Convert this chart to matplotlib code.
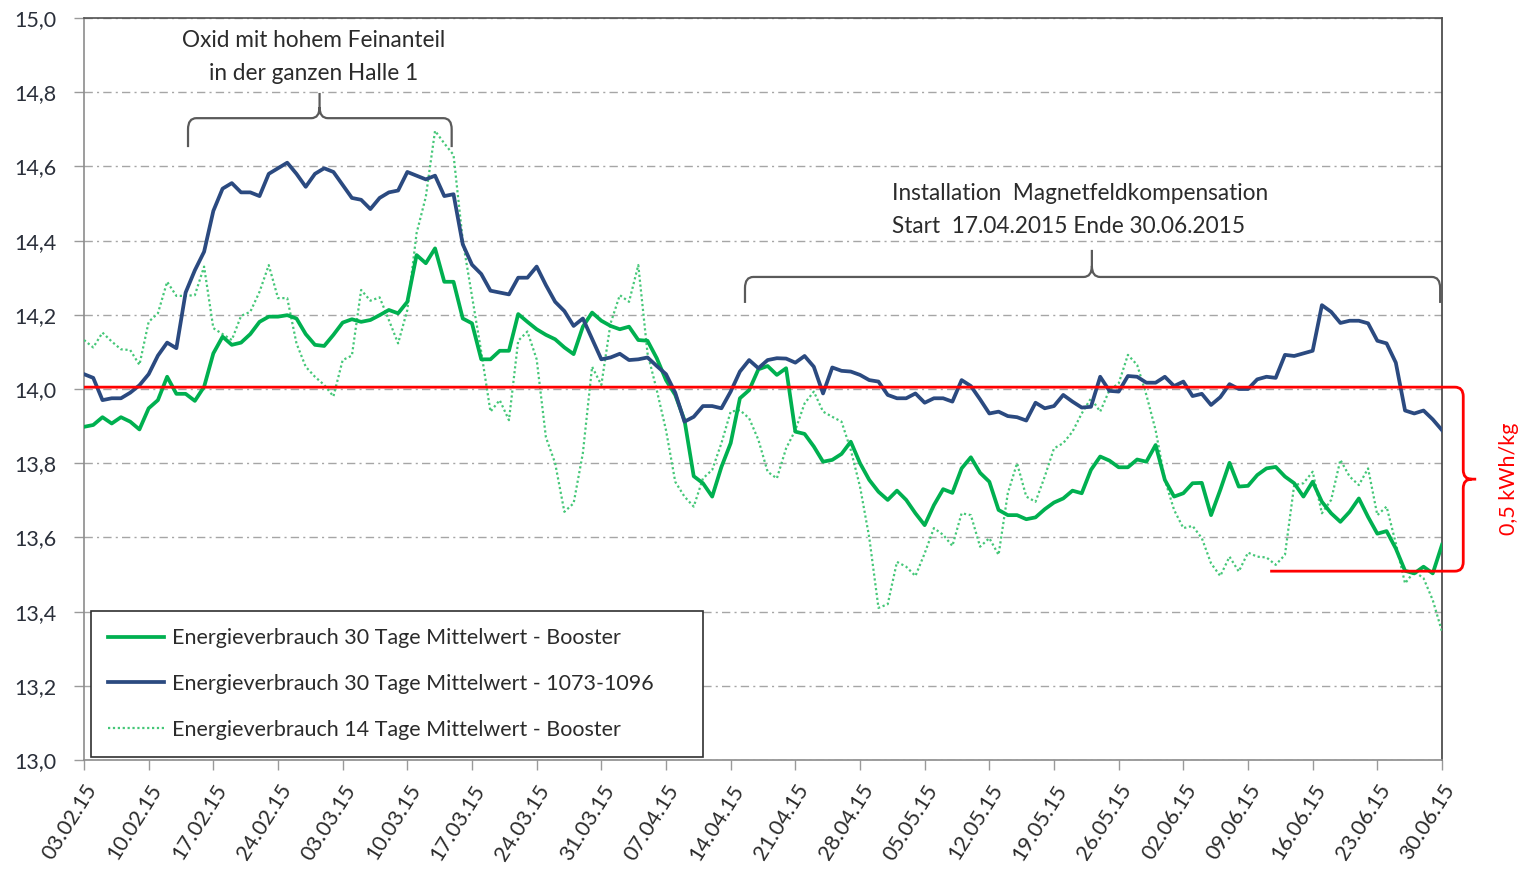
import numpy as np
import pandas as pd
import matplotlib
matplotlib.use("Agg")
import matplotlib.pyplot as plt
from matplotlib.path import Path
from matplotlib.patches import PathPatch
from matplotlib.ticker import FuncFormatter, MultipleLocator

# ---------------- data ----------------
start_date = "2015-02-03"
n_days = 148

booster_30 = [
    13.898, 13.903, 13.924, 13.907, 13.924, 13.912, 13.891, 13.948, 13.970, 14.033,
    13.987, 13.987, 13.968, 14.006, 14.096, 14.141, 14.119, 14.125, 14.148, 14.181,
    14.195, 14.195, 14.199, 14.190, 14.148, 14.119, 14.116, 14.146, 14.179, 14.188,
    14.181, 14.186, 14.199, 14.213, 14.204, 14.235, 14.361, 14.339, 14.379, 14.289,
    14.289, 14.190, 14.177, 14.080, 14.080, 14.103, 14.103, 14.202, 14.181, 14.161,
    14.146, 14.134, 14.112, 14.094, 14.168, 14.206, 14.184, 14.170, 14.161, 14.168,
    14.132, 14.130, 14.083, 14.024, 13.984, 13.916, 13.765, 13.746, 13.710, 13.790,
    13.854, 13.975, 13.997, 14.053, 14.062, 14.038, 14.056, 13.885, 13.879, 13.845,
    13.804, 13.809, 13.825, 13.858, 13.800, 13.755, 13.723, 13.701, 13.726, 13.701,
    13.665, 13.633, 13.687, 13.730, 13.720, 13.786, 13.816, 13.774, 13.750, 13.674,
    13.660, 13.660, 13.649, 13.654, 13.676, 13.694, 13.705, 13.726, 13.719, 13.782,
    13.818, 13.807, 13.789, 13.789, 13.810, 13.804, 13.849, 13.755, 13.710, 13.719,
    13.746, 13.747, 13.660, 13.728, 13.801, 13.737, 13.739, 13.768, 13.786, 13.790,
    13.764, 13.746, 13.710, 13.750, 13.696, 13.665, 13.642, 13.669, 13.705, 13.655,
    13.610, 13.617, 13.570, 13.510, 13.503, 13.521, 13.503, 13.580,
]

line_1073_1096 = [
    14.040, 14.030, 13.970, 13.975, 13.975, 13.990, 14.010, 14.040, 14.090, 14.125,
    14.110, 14.260, 14.320, 14.370, 14.480, 14.540, 14.555, 14.530, 14.530, 14.520,
    14.580, 14.595, 14.610, 14.580, 14.545, 14.580, 14.595, 14.585, 14.550, 14.515,
    14.510, 14.485, 14.515, 14.530, 14.535, 14.585, 14.575, 14.565, 14.575, 14.520,
    14.525, 14.390, 14.335, 14.310, 14.265, 14.260, 14.255, 14.300, 14.300, 14.330,
    14.280, 14.235, 14.210, 14.170, 14.190, 14.135, 14.080, 14.085, 14.095, 14.078,
    14.080, 14.085, 14.062, 14.040, 13.990, 13.912, 13.925, 13.954, 13.954, 13.948,
    13.993, 14.047, 14.078, 14.056, 14.078, 14.083, 14.082, 14.071, 14.089, 14.060,
    13.988, 14.058, 14.049, 14.047, 14.038, 14.024, 14.020, 13.984, 13.975, 13.975,
    13.988, 13.963, 13.975, 13.975, 13.966, 14.024, 14.008, 13.972, 13.934, 13.939,
    13.927, 13.924, 13.915, 13.963, 13.948, 13.954, 13.984, 13.966, 13.950, 13.952,
    14.033, 13.995, 13.993, 14.035, 14.033, 14.017, 14.017, 14.033, 14.008, 14.020,
    13.981, 13.987, 13.957, 13.978, 14.013, 14.000, 14.000, 14.026, 14.033, 14.030,
    14.092, 14.089, 14.096, 14.103, 14.226, 14.208, 14.178, 14.184, 14.184, 14.177,
    14.130, 14.123, 14.071, 13.942, 13.934, 13.942, 13.918, 13.889,
]

booster_14 = [
    14.132, 14.112, 14.152, 14.128, 14.107, 14.105, 14.065, 14.181, 14.204, 14.289,
    14.251, 14.251, 14.253, 14.330, 14.164, 14.148, 14.132, 14.197, 14.208, 14.262,
    14.334, 14.245, 14.245, 14.123, 14.060, 14.033, 14.011, 13.980, 14.078, 14.090,
    14.267, 14.238, 14.247, 14.186, 14.123, 14.213, 14.420, 14.518, 14.696, 14.662,
    14.631, 14.400, 14.250, 14.100, 13.939, 13.970, 13.916, 14.130, 14.155, 14.080,
    13.870, 13.800, 13.669, 13.692, 13.827, 14.060, 14.011, 14.177, 14.253, 14.235,
    14.334, 14.096, 13.997, 13.889, 13.750, 13.710, 13.683, 13.759, 13.782, 13.854,
    13.939, 13.943, 13.921, 13.863, 13.777, 13.759, 13.840, 13.889, 13.961, 13.993,
    13.939, 13.925, 13.912, 13.836, 13.737, 13.600, 13.410, 13.420, 13.534, 13.521,
    13.496, 13.557, 13.625, 13.607, 13.577, 13.665, 13.660, 13.575, 13.598, 13.553,
    13.719, 13.800, 13.710, 13.696, 13.764, 13.840, 13.854, 13.885, 13.934, 13.975,
    13.939, 13.997, 14.015, 14.092, 14.065, 13.984, 13.889, 13.755, 13.674, 13.625,
    13.631, 13.598, 13.530, 13.496, 13.548, 13.508, 13.559, 13.548, 13.546, 13.526,
    13.553, 13.741, 13.746, 13.777, 13.665, 13.701, 13.809, 13.764, 13.741, 13.786,
    13.660, 13.683, 13.584, 13.476, 13.508, 13.490, 13.431, 13.346,
]

tick_labels = ["03.02.15", "10.02.15", "17.02.15", "24.02.15", "03.03.15", "10.03.15",
               "17.03.15", "24.03.15", "31.03.15", "07.04.15", "14.04.15", "21.04.15",
               "28.04.15", "05.05.15", "12.05.15", "19.05.15", "26.05.15", "02.06.15",
               "09.06.15", "16.06.15", "23.06.15", "30.06.15"]

series_names = ["Energieverbrauch 30 Tage Mittelwert - Booster",
                "Energieverbrauch 30 Tage Mittelwert - 1073-1096",
                "Energieverbrauch 14 Tage Mittelwert - Booster"]

baseline_value = 14.005
improved_value = 13.509
delta_label = "0,5 kWh/kg"

note1 = "Oxid mit hohem Feinanteil\nin der ganzen Halle 1"
note2 = "Installation  Magnetfeldkompensation\nStart  17.04.2015 Ende 30.06.2015"

# ---------------- plotting ----------------
dates = pd.date_range(start_date, periods=n_days, freq="D")
x = np.asarray((dates - dates[0]).days, dtype=float)

FONT = "Lato"
plt.rcParams["font.family"] = [FONT, "DejaVu Sans"]

fig = plt.figure(figsize=(15.22, 8.72), dpi=100)
ax = fig.add_axes([84 / 1522, 1 - 760 / 872, (1442 - 84) / 1522, (760 - 18) / 872])

c_green = "#00B050"
c_blue = "#2B4A80"
c_dot = "#45C778"
c_text = "#2b2b2b"

ax.plot(x, booster_30, color=c_green, lw=2.7, label=series_names[0], zorder=4)
ax.plot(x, line_1073_1096, color=c_blue, lw=2.7, label=series_names[1], zorder=4)
ax.plot(x, booster_14, color=c_dot, lw=1.6, ls=(0, (1, 1.2)), label=series_names[2], zorder=3)

ax.set_xlim(x[0], x[-1])
ax.set_ylim(13.0, 15.0)
ax.yaxis.set_major_locator(MultipleLocator(0.2))
ax.yaxis.set_major_formatter(FuncFormatter(lambda v, p: f"{v:.1f}".replace(".", ",")))
ax.set_xticks(x[::7])
ax.set_xticklabels(tick_labels, rotation=58, ha="right", rotation_mode="anchor",
                   fontsize=15.5, color=c_text)
for lab in ax.get_yticklabels():
    lab.set_fontsize(15.5)
    lab.set_color("#2a2f3a")
ax.tick_params(axis="x", direction="out", length=7, width=1, color="#9a9a9a", pad=8)
ax.tick_params(axis="y", direction="out", length=7, width=1, color="#9a9a9a", pad=13)

ax.grid(axis="y", color="#a6a6a6", lw=1.0, ls=(0, (6, 3, 1.5, 3)))
ax.set_axisbelow(True)
for s in ["left", "bottom"]:
    ax.spines[s].set_color("#8c8c8c")
    ax.spines[s].set_linewidth(1.2)
ax.spines["top"].set_color("#505050")
ax.spines["top"].set_linewidth(1.2)
ax.spines["right"].set_color("#404040")
ax.spines["right"].set_linewidth(1.2)

leg = ax.legend(loc="lower left", bbox_to_anchor=(0.005, 0.004, 0.451, 0.19),
                mode="expand", fontsize=15.5,
                frameon=True, fancybox=False, edgecolor="#303030", framealpha=1,
                handlelength=2.6, handletextpad=0.35, labelspacing=1.2,
                borderpad=0.8, borderaxespad=0.0)
leg.get_frame().set_linewidth(1.2)
for t in leg.get_texts():
    t.set_color(c_text)


def brace_up(xl, xr, xm, y_end, y_bar, y_tip, rx, ry, color="#5a5a5a"):
    verts = [(xl, y_end), (xl, y_bar - ry), (xl, y_bar), (xl + rx, y_bar),
             (xm - rx, y_bar), (xm, y_bar), (xm, y_bar + ry), (xm, y_tip),
             (xm, y_bar + ry), (xm, y_bar), (xm + rx, y_bar),
             (xr - rx, y_bar), (xr, y_bar), (xr, y_bar - ry), (xr, y_end)]
    codes = [Path.MOVETO, Path.LINETO, Path.CURVE3, Path.CURVE3,
             Path.LINETO, Path.CURVE3, Path.CURVE3, Path.LINETO,
             Path.MOVETO, Path.CURVE3, Path.CURVE3,
             Path.LINETO, Path.CURVE3, Path.CURVE3, Path.LINETO]
    ax.add_patch(PathPatch(Path(verts, codes), fill=False, edgecolor=color, lw=1.6,
                           zorder=5, clip_on=False))


brace_up(11.26, 39.8, 25.5, 14.652, 14.730, 14.798, 0.9, 0.03)
brace_up(71.55, 146.8, 109.1, 14.232, 14.302, 14.375, 0.9, 0.03)

ax.text(24.9, 14.895, note1, ha="center", va="center", fontsize=16.3, color=c_text,
        linespacing=1.68, zorder=6)
ax.text(87.5, 14.483, note2, ha="left", va="center", fontsize=16.3, color=c_text,
        linespacing=1.68, zorder=6)

# red bracket
xv, xtip, xbl = 149.3, 150.7, 128.4
y_mid = (baseline_value + improved_value) / 2
rx, ry = 0.9, 0.025
verts = [(x[0], baseline_value), (xv - rx, baseline_value), (xv, baseline_value),
         (xv, baseline_value - ry), (xv, y_mid + ry), (xv, y_mid), (xv + rx, y_mid),
         (xtip, y_mid),
         (xv + rx, y_mid), (xv, y_mid), (xv, y_mid - ry),
         (xv, improved_value + ry), (xv, improved_value), (xv - rx, improved_value),
         (xbl, improved_value)]
codes = [Path.MOVETO, Path.LINETO, Path.CURVE3, Path.CURVE3, Path.LINETO,
         Path.CURVE3, Path.CURVE3, Path.LINETO,
         Path.MOVETO, Path.CURVE3, Path.CURVE3, Path.LINETO,
         Path.CURVE3, Path.CURVE3, Path.LINETO]
ax.add_patch(PathPatch(Path(verts, codes), fill=False, edgecolor="#FF0000", lw=2.0,
                       zorder=5, clip_on=False))
ax.text(154.2, y_mid, delta_label, rotation=90, ha="center", va="center",
        fontsize=15.5, color="#FF0000", zorder=6)

fig.savefig("out.png", dpi=100, facecolor="white")
